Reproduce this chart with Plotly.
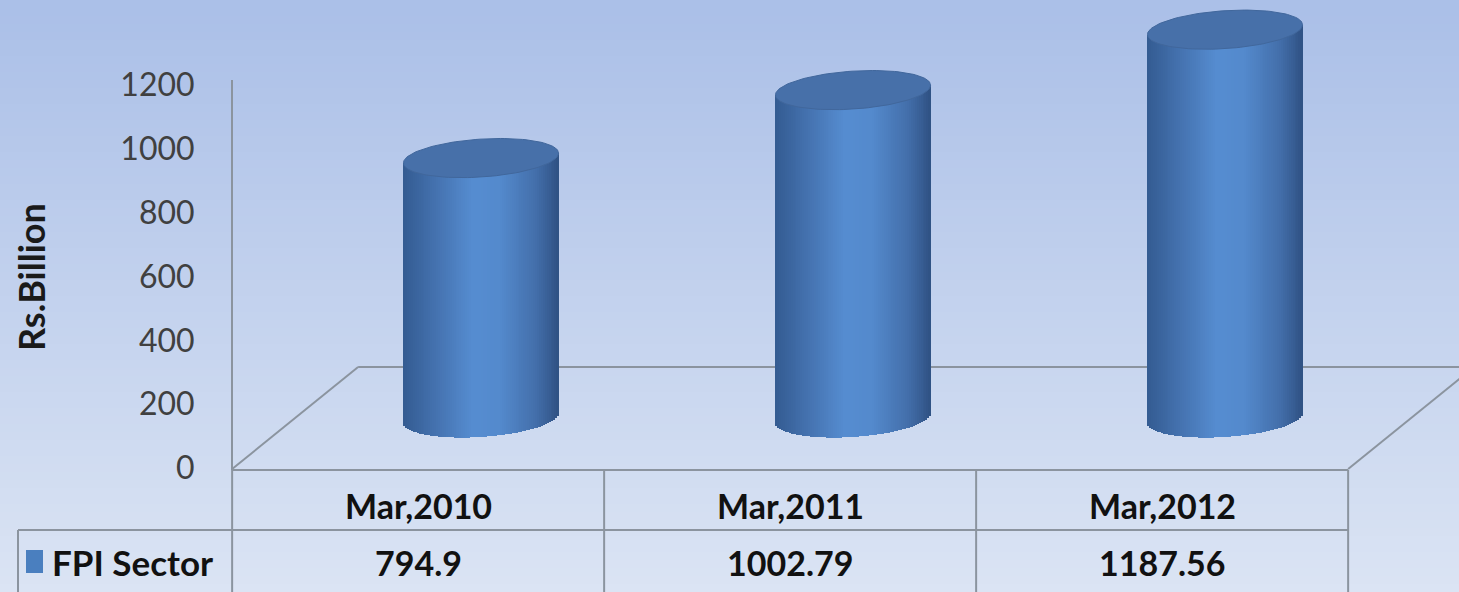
import numpy as np
import plotly.graph_objects as go

# ---------------- data ----------------
categories = ["Mar,2010", "Mar,2011", "Mar,2012"]
values = [794.9, 1002.79, 1187.56]
value_labels = ["794.9", "1002.79", "1187.56"]
series_name = "FPI Sector"
y_ticks = [0, 200, 400, 600, 800, 1000, 1200]
axis_title = "Rs.Billion"

# ---------------- geometry / style ----------------
W, H = 1459, 592
FONT = "Lato, 'Open Sans', sans-serif"
LINE = "#8b949f"

def pxx(x):
    return x / W

def pxy(y):
    return (H - y) / H

cat_x = list(range(len(categories)))
HALF_W = 0.2085          # cylinder half width in category units
ELL_B = 58.0             # ellipse semi-minor axis in value units
SHEAR = 15.0             # perspective tilt in value units
N_STRIPES = 80
TABLE_SHIFT = -0.169     # table columns relative to cylinder centres

fig = go.Figure()

# background gradient
shapes = []
n_bands = 74
top_c = np.array([171, 192, 232])
bot_c = np.array([219, 228, 244])
for k in range(n_bands):
    t = k / (n_bands - 1)
    c = top_c + (bot_c - top_c) * t
    y0 = k * H / n_bands
    y1 = (k + 1) * H / n_bands + 1
    shapes.append(dict(type="rect", xref="paper", yref="paper", layer="below",
                       x0=0, x1=1, y0=pxy(y1), y1=pxy(y0), line=dict(width=0),
                       fillcolor="rgb(%d,%d,%d)" % tuple(c.astype(int))))

# floor (3D base) lines
def seg(x0, y0, x1, y1, xref="paper"):
    shapes.append(dict(type="line", xref=xref, yref="paper", layer="below",
                       x0=x0, y0=y0, x1=x1, y1=y1, line=dict(color=LINE, width=2)))

left_b = cat_x[0] + TABLE_SHIFT - 0.5
right_b = cat_x[-1] + TABLE_SHIFT + 0.5
depth_dx = 126 / 372.0
seg(left_b, pxy(469), left_b + depth_dx, pxy(367), "x")
seg(left_b + depth_dx, pxy(367), right_b + depth_dx, pxy(367), "x")
seg(right_b, pxy(469), right_b + depth_dx, pxy(367), "x")

# table lines
seg(left_b, pxy(470), right_b, pxy(470), "x")
seg(pxx(18), pxy(530), pxx(18), pxy(592))
seg(pxx(18), pxy(530), pxx(232), pxy(530))
seg(left_b, pxy(530), right_b, pxy(530), "x")
for i in range(len(categories) + 1):
    xb = cat_x[0] + TABLE_SHIFT - 0.5 + i
    seg(xb, pxy(470), xb, pxy(592), "x")

# legend key
shapes.append(dict(type="rect", xref="paper", yref="paper", x0=pxx(26), x1=pxx(43),
                   y0=pxy(573), y1=pxy(550), line=dict(width=0), fillcolor="#4a7fbf"))

# ---------------- cylinders ----------------
def shade(u):
    ku = [-1.0, -0.6, -0.1, 0.25, 0.7, 1.0]
    kc = np.array([[52, 92, 146], [68, 113, 174], [86, 141, 209],
                   [84, 138, 205], [68, 112, 172], [48, 82, 132]])
    r = np.interp(u, ku, kc[:, 0]); g = np.interp(u, ku, kc[:, 1]); b = np.interp(u, ku, kc[:, 2])
    return "rgb(%d,%d,%d)" % (r, g, b)

for k in range(N_STRIPES):
    u = -1 + (2 * k + 1) / N_STRIPES
    root = np.sqrt(max(1 - u * u, 0))
    base = SHEAR * u - ELL_B * root
    xs = [c + HALF_W * u for c in cat_x]
    heights = [v + SHEAR * u - base for v in values]
    fig.add_trace(go.Bar(x=xs, y=heights, base=[base] * len(values),
                         width=2 * HALF_W / N_STRIPES * 1.3,
                         marker=dict(color=shade(u), line=dict(width=0)),
                         xaxis="x", yaxis="y2", showlegend=False, hoverinfo="skip"))

theta = np.linspace(0, 2 * np.pi, 120)
for c, v in zip(cat_x, values):
    uu = np.cos(theta)
    vv = np.sin(theta)
    fig.add_trace(go.Scatter(x=c + HALF_W * uu, y=v + SHEAR * uu + ELL_B * vv,
                             mode="lines", fill="toself", fillcolor="#4770a9",
                             line=dict(color="#41679c", width=1),
                             xaxis="x", yaxis="y2", showlegend=False, hoverinfo="skip"))

# dummy trace for the value axis
fig.add_trace(go.Scatter(x=[None], y=[None], xaxis="x", yaxis="y", showlegend=False))

# ---------------- text ----------------
ann = []
tfont = dict(family=FONT, size=34, color="#111111")
for c, lab, vl in zip(cat_x, categories, value_labels):
    ann.append(dict(x=c + TABLE_SHIFT, y=pxy(505), xref="x", yref="paper", yanchor="middle",
                    text="<b>%s</b>" % lab, showarrow=False, font=tfont))
    ann.append(dict(x=c + TABLE_SHIFT, y=pxy(562), xref="x", yref="paper", yanchor="middle",
                    text="<b>%s</b>" % vl, showarrow=False, font=tfont))
ann.append(dict(x=pxx(50), y=pxy(562), xref="paper", yref="paper", xanchor="left", yanchor="middle",
                text="<b>%s</b>" % series_name, showarrow=False,
                font=dict(family=FONT, size=35, color="#111111")))
ann.append(dict(x=pxx(31), y=pxy(277), xref="paper", yref="paper", textangle=-90,
                xanchor="center", yanchor="middle",
                text="<b>%s</b>" % axis_title, showarrow=False,
                font=dict(family=FONT, size=36, color="#1a1a1a")))

scale_main = 0.3192
scale_bar = 0.327
fig.update_layout(
    width=W, height=H, autosize=False,
    margin=dict(l=0, r=0, t=0, b=0, pad=0),
    paper_bgcolor="rgb(219,228,244)", plot_bgcolor="rgba(0,0,0,0)",
    barmode="overlay", bargap=0, showlegend=False,
    shapes=shapes, annotations=ann,
    xaxis=dict(domain=[0, 1], range=[-481 / 372.0, (W - 481) / 372.0], visible=False,
               fixedrange=True, automargin=False),
    yaxis=dict(domain=[pxy(470), pxy(80)], range=[-2 / scale_main, 388 / scale_main],
               anchor="free", position=pxx(232), tickvals=y_ticks, automargin=False,
               showline=True, linecolor=LINE, linewidth=2, showgrid=False, zeroline=False,
               ticks="", ticklabelstandoff=30,
               tickfont=dict(family=FONT, size=32, color="#404040")),
    yaxis2=dict(domain=[0, 1], range=[-(H - 418) / scale_bar, 418 / scale_bar],
                anchor="x", visible=False, showgrid=False, automargin=False),
)

fig.write_html("out.html", config={"displayModeBar": False},
               post_script="document.body.style.margin='0';document.body.style.overflow='hidden';")
